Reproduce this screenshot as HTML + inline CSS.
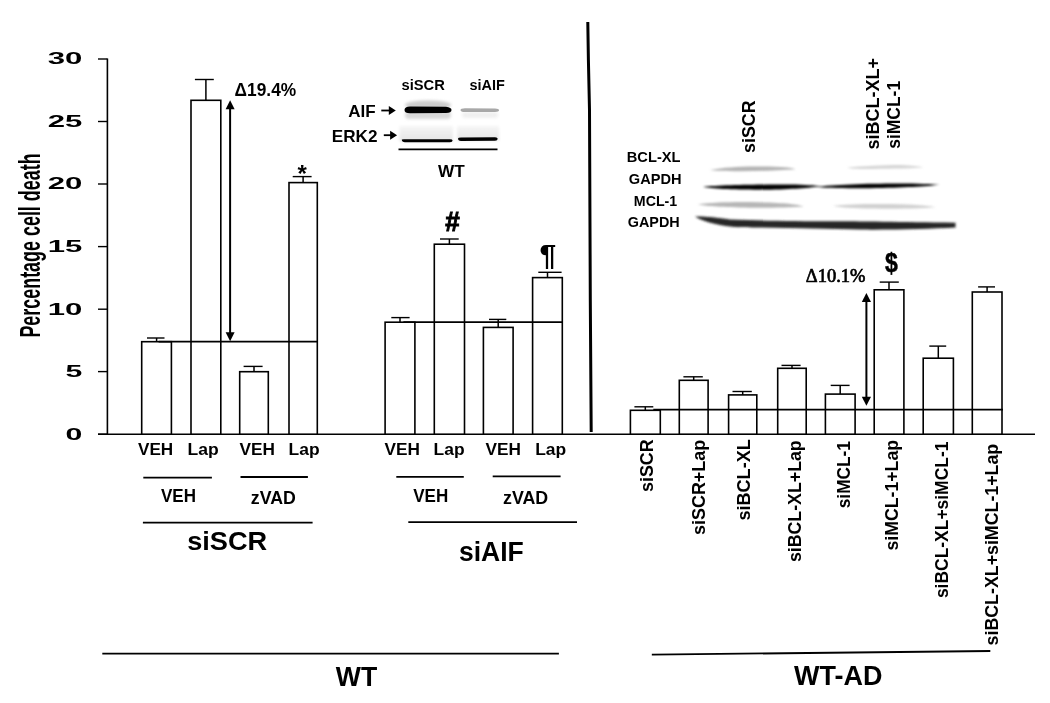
<!DOCTYPE html>
<html><head><meta charset="utf-8"><style>
html,body{margin:0;padding:0;background:#fff;}
svg{display:block;will-change:transform;}
</style></head><body>
<svg width="1050" height="703" viewBox="0 0 1050 703">
<defs>
<linearGradient id="eg" x1="0" y1="0" x2="0" y2="1"><stop offset="0" stop-color="#f6f6f6"/><stop offset="1" stop-color="#e4e4e4"/></linearGradient>
<filter id="b1" x="-20%" y="-50%" width="140%" height="200%"><feGaussianBlur stdDeviation="0.7"/></filter>
<filter id="b2" x="-20%" y="-50%" width="140%" height="200%"><feGaussianBlur stdDeviation="0.85"/></filter>
<filter id="b3" x="-20%" y="-50%" width="140%" height="200%"><feGaussianBlur stdDeviation="1.8"/></filter>
</defs>
<rect width="1050" height="703" fill="#fff"/>
<line x1="107.4" y1="58.5" x2="107.4" y2="434.2" stroke="#000" stroke-width="1.6"/>
<line x1="98" y1="59.0" x2="107.4" y2="59.0" stroke="#000" stroke-width="1.4"/>
<line x1="98" y1="121.5" x2="107.4" y2="121.5" stroke="#000" stroke-width="1.4"/>
<line x1="98" y1="184.0" x2="107.4" y2="184.0" stroke="#000" stroke-width="1.4"/>
<line x1="98" y1="246.6" x2="107.4" y2="246.6" stroke="#000" stroke-width="1.4"/>
<line x1="98" y1="309.2" x2="107.4" y2="309.2" stroke="#000" stroke-width="1.4"/>
<line x1="98" y1="371.6" x2="107.4" y2="371.6" stroke="#000" stroke-width="1.4"/>
<line x1="98" y1="434.2" x2="107.4" y2="434.2" stroke="#000" stroke-width="1.4"/>
<line x1="98" y1="434.2" x2="1035" y2="434.2" stroke="#000" stroke-width="1.6"/>
<rect x="141.7" y="341.7" width="29.7" height="92.5" fill="#fff" stroke="#000" stroke-width="1.6"/>
<line x1="156.6" y1="341.7" x2="156.6" y2="338.0" stroke="#000" stroke-width="1.5"/>
<line x1="147.0" y1="338.0" x2="164.5" y2="338.0" stroke="#000" stroke-width="1.4"/>
<rect x="191.0" y="100.3" width="29.8" height="333.9" fill="#fff" stroke="#000" stroke-width="1.6"/>
<line x1="205.9" y1="100.3" x2="205.9" y2="79.5" stroke="#000" stroke-width="1.5"/>
<line x1="194.9" y1="79.5" x2="213.8" y2="79.5" stroke="#000" stroke-width="1.4"/>
<rect x="239.7" y="371.7" width="28.6" height="62.5" fill="#fff" stroke="#000" stroke-width="1.6"/>
<line x1="254.0" y1="371.7" x2="254.0" y2="366.4" stroke="#000" stroke-width="1.5"/>
<line x1="243.6" y1="366.4" x2="262.6" y2="366.4" stroke="#000" stroke-width="1.4"/>
<rect x="289.0" y="182.6" width="28.3" height="251.6" fill="#fff" stroke="#000" stroke-width="1.6"/>
<line x1="303.1" y1="182.6" x2="303.1" y2="176.6" stroke="#000" stroke-width="1.5"/>
<line x1="292.7" y1="176.6" x2="311.6" y2="176.6" stroke="#000" stroke-width="1.4"/>
<rect x="385.1" y="322.2" width="29.8" height="112.0" fill="#fff" stroke="#000" stroke-width="1.6"/>
<line x1="400.0" y1="322.2" x2="400.0" y2="317.6" stroke="#000" stroke-width="1.5"/>
<line x1="391.3" y1="317.6" x2="409.6" y2="317.6" stroke="#000" stroke-width="1.4"/>
<rect x="434.3" y="244.2" width="30.2" height="190.0" fill="#fff" stroke="#000" stroke-width="1.6"/>
<line x1="449.4" y1="244.2" x2="449.4" y2="239.0" stroke="#000" stroke-width="1.5"/>
<line x1="440.0" y1="239.0" x2="458.7" y2="239.0" stroke="#000" stroke-width="1.4"/>
<rect x="483.4" y="327.4" width="29.7" height="106.8" fill="#fff" stroke="#000" stroke-width="1.6"/>
<line x1="498.2" y1="327.4" x2="498.2" y2="319.4" stroke="#000" stroke-width="1.5"/>
<line x1="489.0" y1="319.4" x2="506.3" y2="319.4" stroke="#000" stroke-width="1.4"/>
<rect x="532.6" y="277.6" width="29.7" height="156.6" fill="#fff" stroke="#000" stroke-width="1.6"/>
<line x1="547.5" y1="277.6" x2="547.5" y2="272.3" stroke="#000" stroke-width="1.5"/>
<line x1="538.3" y1="272.3" x2="561.6" y2="272.3" stroke="#000" stroke-width="1.4"/>
<rect x="630.4" y="410.3" width="29.9" height="23.9" fill="#fff" stroke="#000" stroke-width="1.6"/>
<line x1="645.3" y1="410.3" x2="645.3" y2="406.8" stroke="#000" stroke-width="1.5"/>
<line x1="634.4" y1="406.8" x2="653.3" y2="406.8" stroke="#000" stroke-width="1.4"/>
<rect x="679.3" y="380.3" width="28.8" height="53.9" fill="#fff" stroke="#000" stroke-width="1.6"/>
<line x1="693.7" y1="380.3" x2="693.7" y2="376.8" stroke="#000" stroke-width="1.5"/>
<line x1="683.4" y1="376.8" x2="702.8" y2="376.8" stroke="#000" stroke-width="1.4"/>
<rect x="728.6" y="394.9" width="28.2" height="39.3" fill="#fff" stroke="#000" stroke-width="1.6"/>
<line x1="742.7" y1="394.9" x2="742.7" y2="391.5" stroke="#000" stroke-width="1.5"/>
<line x1="732.5" y1="391.5" x2="751.8" y2="391.5" stroke="#000" stroke-width="1.4"/>
<rect x="777.7" y="368.3" width="28.5" height="65.9" fill="#fff" stroke="#000" stroke-width="1.6"/>
<line x1="792.0" y1="368.3" x2="792.0" y2="365.4" stroke="#000" stroke-width="1.5"/>
<line x1="781.5" y1="365.4" x2="800.6" y2="365.4" stroke="#000" stroke-width="1.4"/>
<rect x="825.4" y="394.1" width="29.7" height="40.1" fill="#fff" stroke="#000" stroke-width="1.6"/>
<line x1="840.2" y1="394.1" x2="840.2" y2="385.4" stroke="#000" stroke-width="1.5"/>
<line x1="830.7" y1="385.4" x2="849.6" y2="385.4" stroke="#000" stroke-width="1.4"/>
<rect x="874.2" y="289.8" width="29.7" height="144.4" fill="#fff" stroke="#000" stroke-width="1.6"/>
<line x1="889.0" y1="289.8" x2="889.0" y2="282.1" stroke="#000" stroke-width="1.5"/>
<line x1="879.7" y1="282.1" x2="898.8" y2="282.1" stroke="#000" stroke-width="1.4"/>
<rect x="923.2" y="358.2" width="30.2" height="76.0" fill="#fff" stroke="#000" stroke-width="1.6"/>
<line x1="938.3" y1="358.2" x2="938.3" y2="346.1" stroke="#000" stroke-width="1.5"/>
<line x1="929.3" y1="346.1" x2="946.2" y2="346.1" stroke="#000" stroke-width="1.4"/>
<rect x="972.3" y="292.0" width="29.7" height="142.2" fill="#fff" stroke="#000" stroke-width="1.6"/>
<line x1="987.1" y1="292.0" x2="987.1" y2="286.9" stroke="#000" stroke-width="1.5"/>
<line x1="978.1" y1="286.9" x2="995.0" y2="286.9" stroke="#000" stroke-width="1.4"/>
<line x1="158.6" y1="341.7" x2="317.3" y2="341.7" stroke="#000" stroke-width="1.8"/>
<line x1="403.4" y1="322.2" x2="562.3" y2="322.2" stroke="#000" stroke-width="1.8"/>
<line x1="653.3" y1="409.7" x2="1003.0" y2="409.7" stroke="#000" stroke-width="1.8"/>
<line x1="230.1" y1="108.3" x2="230.1" y2="333.3" stroke="#000" stroke-width="2"/>
<polygon points="230.1,100.3 225.6,109.3 234.6,109.3" fill="#000"/>
<polygon points="230.1,341.3 225.6,332.3 234.6,332.3" fill="#000"/>
<line x1="866.4" y1="301.0" x2="866.4" y2="397.8" stroke="#000" stroke-width="2"/>
<polygon points="866.4,293.0 861.8,302.0 871.0,302.0" fill="#000"/>
<polygon points="866.4,405.8 861.8,396.8 871.0,396.8" fill="#000"/>
<polyline points="587.8,22 588.4,60 589.5,110 590.3,300 591.2,432" fill="none" stroke="#000" stroke-width="3"/>
<text x="47.8" y="64.3" font-family="Liberation Sans" font-weight="bold" font-size="17.2" text-anchor="start" textLength="34.6" lengthAdjust="spacingAndGlyphs" >30</text>
<text x="47.8" y="126.8" font-family="Liberation Sans" font-weight="bold" font-size="17.2" text-anchor="start" textLength="34.6" lengthAdjust="spacingAndGlyphs" >25</text>
<text x="47.8" y="189.3" font-family="Liberation Sans" font-weight="bold" font-size="17.2" text-anchor="start" textLength="34.6" lengthAdjust="spacingAndGlyphs" >20</text>
<text x="47.8" y="251.9" font-family="Liberation Sans" font-weight="bold" font-size="17.2" text-anchor="start" textLength="34.6" lengthAdjust="spacingAndGlyphs" >15</text>
<text x="47.8" y="314.5" font-family="Liberation Sans" font-weight="bold" font-size="17.2" text-anchor="start" textLength="34.6" lengthAdjust="spacingAndGlyphs" >10</text>
<text x="65.6" y="376.9" font-family="Liberation Sans" font-weight="bold" font-size="17.2" text-anchor="start" textLength="16.8" lengthAdjust="spacingAndGlyphs" >5</text>
<text x="65.6" y="439.5" font-family="Liberation Sans" font-weight="bold" font-size="17.2" text-anchor="start" textLength="16.8" lengthAdjust="spacingAndGlyphs" >0</text>
<text transform="translate(39.6,337.6) rotate(-90)" font-family="Liberation Sans" font-weight="bold" font-size="30" textLength="184.2" lengthAdjust="spacingAndGlyphs">Percentage cell death</text>
<text x="138.0" y="454.9" font-family="Liberation Sans" font-weight="bold" font-size="17.2" text-anchor="start" textLength="35.2" lengthAdjust="spacingAndGlyphs" >VEH</text>
<text x="187.6" y="454.9" font-family="Liberation Sans" font-weight="bold" font-size="17.2" text-anchor="start" textLength="31.2" lengthAdjust="spacingAndGlyphs" >Lap</text>
<text x="239.6" y="454.9" font-family="Liberation Sans" font-weight="bold" font-size="17.2" text-anchor="start" textLength="35.4" lengthAdjust="spacingAndGlyphs" >VEH</text>
<text x="288.6" y="454.9" font-family="Liberation Sans" font-weight="bold" font-size="17.2" text-anchor="start" textLength="31.0" lengthAdjust="spacingAndGlyphs" >Lap</text>
<text x="384.6" y="454.9" font-family="Liberation Sans" font-weight="bold" font-size="17.2" text-anchor="start" textLength="35.4" lengthAdjust="spacingAndGlyphs" >VEH</text>
<text x="433.6" y="454.9" font-family="Liberation Sans" font-weight="bold" font-size="17.2" text-anchor="start" textLength="31.0" lengthAdjust="spacingAndGlyphs" >Lap</text>
<text x="485.6" y="454.9" font-family="Liberation Sans" font-weight="bold" font-size="17.2" text-anchor="start" textLength="35.4" lengthAdjust="spacingAndGlyphs" >VEH</text>
<text x="535.2" y="454.9" font-family="Liberation Sans" font-weight="bold" font-size="17.2" text-anchor="start" textLength="31.0" lengthAdjust="spacingAndGlyphs" >Lap</text>
<line x1="143.3" y1="477.7" x2="211.9" y2="477.7" stroke="#000" stroke-width="1.8"/>
<line x1="240.5" y1="477.0" x2="307.9" y2="477.0" stroke="#000" stroke-width="1.8"/>
<line x1="396.3" y1="476.8" x2="463.8" y2="476.8" stroke="#000" stroke-width="1.8"/>
<line x1="492.7" y1="476.4" x2="560.6" y2="476.4" stroke="#000" stroke-width="1.8"/>
<line x1="142.9" y1="522.6" x2="312.6" y2="522.6" stroke="#000" stroke-width="1.8"/>
<line x1="408.3" y1="522.1" x2="577.0" y2="522.1" stroke="#000" stroke-width="1.8"/>
<text x="161.0" y="502.4" font-family="Liberation Sans" font-weight="bold" font-size="17.8" text-anchor="start" textLength="35.0" lengthAdjust="spacingAndGlyphs" >VEH</text>
<text x="250.8" y="503.6" font-family="Liberation Sans" font-weight="bold" font-size="17.8" text-anchor="start" textLength="45.0" lengthAdjust="spacingAndGlyphs" >zVAD</text>
<text x="413.2" y="502.2" font-family="Liberation Sans" font-weight="bold" font-size="17.8" text-anchor="start" textLength="35.0" lengthAdjust="spacingAndGlyphs" >VEH</text>
<text x="503.0" y="503.6" font-family="Liberation Sans" font-weight="bold" font-size="17.8" text-anchor="start" textLength="45.2" lengthAdjust="spacingAndGlyphs" >zVAD</text>
<text x="187.2" y="549.8" font-family="Liberation Sans" font-weight="bold" font-size="26.0" text-anchor="start" textLength="80.0" lengthAdjust="spacingAndGlyphs" >siSCR</text>
<text x="459.0" y="560.6" font-family="Liberation Sans" font-weight="bold" font-size="26.8" text-anchor="start" textLength="64.8" lengthAdjust="spacingAndGlyphs" >siAIF</text>
<line x1="102.3" y1="653.7" x2="558.9" y2="653.7" stroke="#000" stroke-width="1.8"/>
<text x="335.8" y="686.2" font-family="Liberation Sans" font-weight="bold" font-size="27.5" text-anchor="start" textLength="41.4" lengthAdjust="spacingAndGlyphs" >WT</text>
<line x1="651.8" y1="654.7" x2="990.3" y2="651.0" stroke="#000" stroke-width="1.8"/>
<text x="794.0" y="685.4" font-family="Liberation Sans" font-weight="bold" font-size="27.5" text-anchor="start" textLength="88.4" lengthAdjust="spacingAndGlyphs" >WT-AD</text>
<text x="234.6" y="95.6" font-family="Liberation Sans" font-weight="bold" font-size="18.2" text-anchor="start" textLength="61.6" lengthAdjust="spacingAndGlyphs" >&#916;19.4%</text>
<text x="297.4" y="181.8" font-family="Liberation Sans" font-weight="bold" font-size="24" text-anchor="start" >*</text>
<text x="445.2" y="231.2" font-family="Liberation Sans" font-weight="bold" font-size="28.0" text-anchor="start" textLength="14.5" lengthAdjust="spacingAndGlyphs" stroke="#000" stroke-width="1.0">#</text>
<text x="539.5" y="265.2" font-family="Liberation Sans" font-weight="bold" font-size="30" text-anchor="start" >&#182;</text>
<text x="884.9" y="272.4" font-family="Liberation Sans" font-weight="bold" font-size="28" text-anchor="start" textLength="12.8" lengthAdjust="spacingAndGlyphs" stroke="#000" stroke-width="0.5">$</text>
<text x="805.8" y="282.3" font-family="Liberation Serif" font-weight="normal" font-size="19" text-anchor="start" textLength="59.6" lengthAdjust="spacingAndGlyphs" stroke="#000" stroke-width="0.7">&#916;10.1%</text>
<text transform="translate(653.3,492.0) rotate(-90)" x="0" y="0" font-family="Liberation Sans" font-weight="bold" font-size="18" text-anchor="start" textLength="52.7" lengthAdjust="spacingAndGlyphs">siSCR</text>
<text transform="translate(704.5,535.0) rotate(-90)" x="0" y="0" font-family="Liberation Sans" font-weight="bold" font-size="18" text-anchor="start" textLength="95.2" lengthAdjust="spacingAndGlyphs">siSCR+Lap</text>
<text transform="translate(750.3,520.5) rotate(-90)" x="0" y="0" font-family="Liberation Sans" font-weight="bold" font-size="18" text-anchor="start" textLength="81.2" lengthAdjust="spacingAndGlyphs">siBCL-XL</text>
<text transform="translate(801.3,562.1) rotate(-90)" x="0" y="0" font-family="Liberation Sans" font-weight="bold" font-size="18" text-anchor="start" textLength="121.8" lengthAdjust="spacingAndGlyphs">siBCL-XL+Lap</text>
<text transform="translate(850.0,508.3) rotate(-90)" x="0" y="0" font-family="Liberation Sans" font-weight="bold" font-size="18" text-anchor="start" textLength="67.3" lengthAdjust="spacingAndGlyphs">siMCL-1</text>
<text transform="translate(898.0,550.6) rotate(-90)" x="0" y="0" font-family="Liberation Sans" font-weight="bold" font-size="18" text-anchor="start" textLength="110.7" lengthAdjust="spacingAndGlyphs">siMCL-1+Lap</text>
<text transform="translate(948.2,598.1) rotate(-90)" x="0" y="0" font-family="Liberation Sans" font-weight="bold" font-size="18" text-anchor="start" textLength="156.5" lengthAdjust="spacingAndGlyphs">siBCL-XL+siMCL-1</text>
<text transform="translate(997.6,645.4) rotate(-90)" x="0" y="0" font-family="Liberation Sans" font-weight="bold" font-size="18" text-anchor="start" textLength="201.6" lengthAdjust="spacingAndGlyphs">siBCL-XL+siMCL-1+Lap</text>

<g filter="url(#b3)">
 <rect x="399.5" y="126" width="53.5" height="15.5" fill="url(#eg)"/>
 <rect x="457" y="126" width="42" height="14.5" fill="url(#eg)"/>
 <ellipse cx="428" cy="105" rx="23" ry="4.5" fill="#cdcdcd"/>
 <rect x="405" y="111" width="46" height="8" rx="4" fill="#d8d8d8"/>
 <rect x="462" y="112" width="36" height="6" rx="3" fill="#f0f0f0"/>
</g>
<g filter="url(#b1)">
 <path d="M404.5,110 Q404.5,106.6 410,106.5 L446,106.8 Q451.5,107.6 451.5,110 Q451.5,112.9 446,113 L410,113.3 Q404.5,113.3 404.5,110Z" fill="#050505"/>
 <path d="M460.5,110 Q460.5,108.3 465,108.3 L495,108.5 Q499,108.8 499,110.2 Q499,111.8 495,111.9 L465,112 Q460.5,112 460.5,110Z" fill="#a8a8a8"/>
 <path d="M401.8,139.6 Q402,139.2 405,139.3 L450,139.3 Q452.6,139.4 452.6,140.5 Q452.6,142.2 450,142.2 L405,142.3 Q401.8,142.3 401.8,139.6Z" fill="#000"/>
 <path d="M458,138.6 Q458,137.5 461,137.4 L495,137.3 Q497.7,137.5 497.7,138.8 Q497.7,140.8 495,140.8 L461,141 Q458,141 458,138.6Z" fill="#000"/>
</g>
<text x="401.5" y="89.9" font-family="Liberation Sans" font-weight="bold" font-size="14.5" text-anchor="start" textLength="43.3" lengthAdjust="spacingAndGlyphs" >siSCR</text>
<text x="469.5" y="89.9" font-family="Liberation Sans" font-weight="bold" font-size="14.5" text-anchor="start" textLength="35.3" lengthAdjust="spacingAndGlyphs" >siAIF</text>
<text x="348.2" y="116.8" font-family="Liberation Sans" font-weight="bold" font-size="16.5" text-anchor="start" textLength="27.4" lengthAdjust="spacingAndGlyphs" >AIF</text>
<text x="331.8" y="141.9" font-family="Liberation Sans" font-weight="bold" font-size="16.5" text-anchor="start" textLength="45.7" lengthAdjust="spacingAndGlyphs" >ERK2</text>
<line x1="381.3" y1="110.5" x2="389.8" y2="110.5" stroke="#000" stroke-width="1.8"/>
<polygon points="395.8,110.5 388.8,106.0 388.8,115.0" fill="#000"/>
<line x1="383.8" y1="135.2" x2="391.1" y2="135.2" stroke="#000" stroke-width="1.8"/>
<polygon points="397.1,135.2 390.1,130.7 390.1,139.7" fill="#000"/>
<line x1="398.5" y1="149.4" x2="497.5" y2="149.4" stroke="#000" stroke-width="1.8"/>
<text x="438.1" y="176.6" font-family="Liberation Sans" font-weight="bold" font-size="17" text-anchor="start" textLength="26.7" lengthAdjust="spacingAndGlyphs" >WT</text>

<g filter="url(#b2)">
 <path d="M710,170 C725,167.5 740,166.3 760,166.6 C780,166.5 790,167.5 795.5,169.2 C780,170.5 760,171 740,171.2 C725,171.2 715,170.8 710,170Z" fill="#b4b4b4"/>
 <path d="M847,167.8 C865,166 890,164.8 905,165.2 C915,165.6 920,166.5 923.5,167.5 C905,168.6 880,169 860,168.9 C852,168.7 849,168.3 847,167.8Z" fill="#d6d6d6"/>
 <path d="M703,187 C720,184.9 760,184.4 790,184.6 C805,184.9 815,185.4 821,186.4 C805,188 790,189.4 760,189.7 C730,189.6 712,188.6 703,187Z" fill="#000"/>
 <path d="M815,186.8 C835,184.5 870,183.2 905,183.4 C925,183.7 935,184.1 940,184.8 C925,186.5 905,187.7 870,188.2 C840,188.4 826,188 815,186.8Z" fill="#000"/>
 <path d="M698,204.3 C715,202 740,201.5 760,202.3 C785,203 798,204.5 803.5,206.5 C790,207.6 760,208 740,207.5 C715,207 703,205.6 698,204.3Z" fill="#b6b6b6"/>
 <path d="M833,205.8 C850,204 875,203.5 900,204.3 C920,205 930,206 935.5,207.2 C920,208.5 890,209 865,208.6 C848,208.2 838,207 833,205.8Z" fill="#d0d0d0"/>
 <path d="M695,216.6 C705,216.2 715,217.5 730,219.5 C760,220.8 800,221 830,221.3 C860,221.3 900,222 955.5,222.8 L955.5,227.6 C930,229 900,229.8 860,229.6 C830,229 800,228.2 760,227.6 C750,227.4 740,227.2 735,227 C715,225.5 702,221 695,216.6Z" fill="#262626"/>
</g>
<text x="626.8" y="161.6" font-family="Liberation Sans" font-weight="bold" font-size="14.5" text-anchor="start" textLength="53.7" lengthAdjust="spacingAndGlyphs" >BCL-XL</text>
<text x="628.8" y="184.4" font-family="Liberation Sans" font-weight="bold" font-size="14.5" text-anchor="start" textLength="52.7" lengthAdjust="spacingAndGlyphs" >GAPDH</text>
<text x="633.8" y="205.7" font-family="Liberation Sans" font-weight="bold" font-size="14.5" text-anchor="start" textLength="43.4" lengthAdjust="spacingAndGlyphs" >MCL-1</text>
<text x="627.8" y="226.5" font-family="Liberation Sans" font-weight="bold" font-size="14.5" text-anchor="start" textLength="51.9" lengthAdjust="spacingAndGlyphs" >GAPDH</text>
<text transform="translate(755.0,152.9) rotate(-90)" x="0" y="0" font-family="Liberation Sans" font-weight="bold" font-size="18" text-anchor="start" textLength="52.4" lengthAdjust="spacingAndGlyphs">siSCR</text>
<text transform="translate(879.2,149.5) rotate(-90)" x="0" y="0" font-family="Liberation Sans" font-weight="bold" font-size="18" text-anchor="start" textLength="91.4" lengthAdjust="spacingAndGlyphs">siBCL-XL+</text>
<text transform="translate(900.3,148.8) rotate(-90)" x="0" y="0" font-family="Liberation Sans" font-weight="bold" font-size="18" text-anchor="start" textLength="67.9" lengthAdjust="spacingAndGlyphs">siMCL-1</text>

</svg>
</body></html>
